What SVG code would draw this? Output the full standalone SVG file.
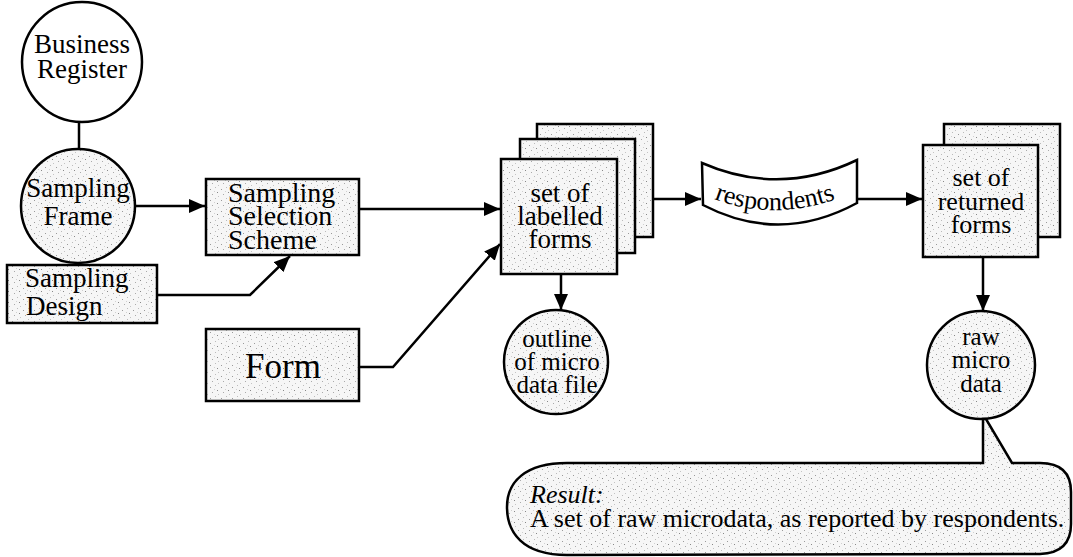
<svg xmlns="http://www.w3.org/2000/svg" width="1073" height="557" viewBox="0 0 1073 557" font-family="'Liberation Serif', 'Times New Roman', 'DejaVu Serif', serif">
<style>
.s{stroke:#000;stroke-width:2.5;fill:url(#stip)}
.w{stroke:#000;stroke-width:2.5;fill:#fff}
text{font-family:'Liberation Serif','Times New Roman','DejaVu Serif',serif;fill:#000}
.c{stroke:#000;stroke-width:2.5;fill:none}
</style>
<defs>
<pattern id="stip" width="11" height="11" patternUnits="userSpaceOnUse">
<rect width="11" height="11" fill="#f6f6f6"/>
<rect x="1" y="2" width="1" height="1" fill="#9a9a9a"/>
<rect x="6" y="0" width="1" height="1" fill="#bbb"/>
<rect x="8" y="5" width="1" height="1" fill="#888"/>
<rect x="3" y="7" width="1" height="1" fill="#aaa"/>
<rect x="9" y="9" width="1" height="1" fill="#c4c4c4"/>
<rect x="5" y="4" width="1" height="1" fill="#d0d0d0"/>
</pattern>
<marker id="ah" markerUnits="userSpaceOnUse" markerWidth="17" markerHeight="14" refX="16" refY="7" orient="auto">
<path d="M0,0 L16,7 L0,14 Z" fill="#000"/>
</marker>
</defs>
<rect width="1073" height="557" fill="#fff"/>

<g id="connectors">
<line class="c" x1="79" y1="122" x2="79" y2="149"/>
<line class="c" x1="135" y1="206" x2="205" y2="206" marker-end="url(#ah)"/>
<polyline class="c" points="157,295 250,295 290,256" marker-end="url(#ah)"/>
<line class="c" x1="359" y1="209" x2="500" y2="209" marker-end="url(#ah)"/>
<polyline class="c" points="359,367 393,367 500,244" marker-end="url(#ah)"/>
<line class="c" x1="635" y1="199" x2="701" y2="199" marker-end="url(#ah)"/>
<line class="c" x1="561" y1="274" x2="561" y2="310" marker-end="url(#ah)"/>
<line class="c" x1="857" y1="199" x2="922" y2="199" marker-end="url(#ah)"/>
<line class="c" x1="983" y1="257" x2="983" y2="311" marker-end="url(#ah)"/>
</g>

<g id="business-register">
<circle class="w" cx="82" cy="62" r="60"/>
<text font-size="27" text-anchor="middle" x="82" y="53">Business</text>
<text font-size="27" text-anchor="middle" x="82" y="78">Register</text>
</g>

<g id="sampling-frame">
<circle class="s" cx="78" cy="206" r="57"/>
<text font-size="27" text-anchor="middle" x="78" y="197">Sampling</text>
<text font-size="27" text-anchor="middle" x="78" y="225">Frame</text>
</g>

<g id="sampling-design">
<rect class="s" x="7" y="265" width="150" height="58"/>
<text font-size="27" x="25" y="287">Sampling</text>
<text font-size="27" x="26" y="315">Design</text>
</g>

<g id="sampling-selection-scheme">
<rect class="s" x="206" y="179" width="153" height="76"/>
<text font-size="28" x="228" y="202">Sampling</text>
<text font-size="28" x="228" y="225">Selection</text>
<text font-size="28" x="228" y="249">Scheme</text>
</g>

<g id="form">
<rect class="s" x="206" y="329" width="153" height="72"/>
<text font-size="35" text-anchor="middle" x="283" y="378">Form</text>
</g>

<g id="labelled-forms">
<rect class="s" x="537" y="124" width="116" height="113"/>
<rect class="s" x="520" y="139" width="115" height="114"/>
<rect class="s" x="501" y="159" width="116" height="115"/>
<text font-size="27" text-anchor="middle" x="560" y="202">set of</text>
<text font-size="27" text-anchor="middle" x="560" y="225">labelled</text>
<text font-size="27" text-anchor="middle" x="560" y="248">forms</text>
</g>

<g id="outline-micro-data-file">
<circle class="s" cx="556" cy="362" r="52"/>
<text font-size="25" text-anchor="middle" x="557" y="347">outline</text>
<text font-size="25" text-anchor="middle" x="557" y="370">of micro</text>
<text font-size="25" text-anchor="middle" x="557" y="393">data file</text>
</g>

<g id="respondents">
<path class="w" d="M702,163 Q780,197 857,160 L857,203 Q780,245 703,205 Z"/>
<path id="rp" d="M714,199 Q780,224 852,193" fill="none"/>
<text font-size="26"><textPath href="#rp">respondents</textPath></text>
</g>

<g id="returned-forms">
<rect class="s" x="944" y="124" width="116" height="113"/>
<rect class="s" x="923" y="145" width="115" height="112"/>
<text font-size="26" text-anchor="middle" x="981" y="186">set of</text>
<text font-size="26" text-anchor="middle" x="981" y="210">returned</text>
<text font-size="26" text-anchor="middle" x="981" y="233">forms</text>
</g>

<g id="raw-micro-data">
<circle class="s" cx="981" cy="365" r="54"/>
<text font-size="25" text-anchor="middle" x="981" y="345">raw</text>
<text font-size="25" text-anchor="middle" x="981" y="368">micro</text>
<text font-size="25" text-anchor="middle" x="981" y="392">data</text>
</g>

<g id="result-callout">
<path class="s" d="M567,463 L983,463 L983,419 L986,419 L1012,463 L1040,463 Q1071,463 1071,492 L1071,524 Q1071,553 1040,554 L567,555 C522,555 507,532 507,507 C507,482 525,463 567,463 Z"/>
<text font-size="26" font-style="italic" x="530" y="503">Result:</text>
<text font-size="26" x="530" y="527">A set of raw microdata, as reported by respondents.</text>
</g>
</svg>
